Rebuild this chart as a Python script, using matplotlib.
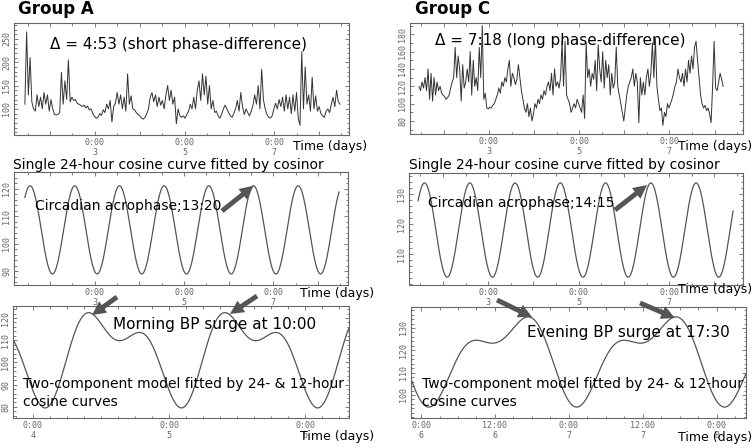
import numpy as np
import matplotlib.pyplot as plt
from matplotlib.ticker import MultipleLocator

W, H = 753, 448

# raw ambulatory BP (mmHg)
bp_a = [110, 265, 130, 210, 115, 100, 95, 130, 105, 125,
        100, 135, 110, 130, 95, 120, 100, 88,
        87, 88, 92, 178, 110, 160, 120, 205, 115,
        125, 118, 120, 112, 110, 108, 105, 108,
        102, 106, 98, 100, 90, 84, 80, 82,
        90, 86, 98, 92, 110, 100, 118, 72, 105,
        112, 135, 110, 130, 100, 125, 95, 175, 110,
        128, 100, 98, 92, 88, 85, 80, 78,
        82, 90, 100, 125, 135, 115, 130, 105,
        125, 108, 118, 100, 130, 150, 118, 140,
        110, 125, 68, 100, 85, 82, 85, 80,
        88, 95, 110, 100, 125, 100, 140, 160, 118, 175,
        130, 170, 110, 150, 100, 118, 92, 95,
        85, 80, 88, 100, 108, 100, 92, 85,
        82, 90, 100, 118, 95, 135, 105, 88,
        100, 92, 85, 95, 108, 130, 110, 150,
        100, 185, 120, 100, 88, 82, 80, 85,
        100, 112, 100, 120, 105, 125, 95, 130, 100, 125,
        90, 130, 95, 135, 80, 65, 222, 100, 190, 110,
        130, 95, 168, 100, 128, 95, 105, 90,
        85, 82, 95, 100, 92, 110, 125, 105, 140, 115, 110]

bp_c = [120, 115, 125, 118, 130, 115, 140,
        105, 135, 103, 130, 110, 125, 115, 120, 112,
        110, 108, 105, 107, 110, 118, 125, 130,
        165, 130, 155, 140, 103, 145, 118, 125,
        140, 125, 160, 110, 150, 120, 130, 115, 165, 130, 190,
        105, 112, 95, 94, 96, 95,
        98, 100, 105, 110, 118, 112, 125, 120, 130,
        125, 140, 150, 120, 135,
        130, 122, 128, 145, 130, 115, 105, 95,
        90, 100, 85, 95, 80, 88, 100,
        95, 105, 100, 110, 105, 115, 110, 120, 125, 115,
        135, 110, 140, 120, 125, 118, 130, 172,
        120, 172, 110, 105, 100, 90, 95, 100, 95,
        105, 100, 95, 90, 110, 83, 170, 130, 140,
        120, 135, 128, 150, 115, 168, 140, 125, 160, 118,
        150, 130, 145, 110, 135, 118, 125, 165, 120,
        110, 100, 90, 80, 95, 110, 120, 125,
        130, 140, 120, 135, 125, 78, 130, 110, 125,
        110, 130, 140, 120, 135, 170, 130, 175,
        120, 105, 92, 95, 75, 90, 85, 100, 95,
        100, 105, 112, 120, 125, 140, 130, 125, 135, 120,
        140, 125, 150, 135, 155, 140, 165, 172, 150,
        130, 110, 100, 95, 98, 92, 95, 88, 78,
        120, 172, 118, 115, 125, 135, 128, 120]

rec_a = (1.4375, 8.47)     # recording start / end, days
rec_c = (1.45, 8.19)
fit_span_a = (1.4375, 8.47)
fit_span_c = (1.45, 8.41)

# single cosinor: MESOR, amplitude, acrophase (hours)
cos_a = (105, 16, 13 + 20 / 60)
cos_c = (118, 15.7, 14 + 15 / 60)

# two-component model: MESOR, 24h amp, 24h acrophase, 12h amp, 12h acrophase
two_a = (105, 16, 13.33, 10, 8.5)
two_c = (118, 15.7, 14.25, 8.5, 6.8)

days_top = [2, 3, 4, 5, 6, 7, 8]
day_labels_top = ['', '0:00\n3', '', '0:00\n5', '', '0:00\n7', '']
ticks_bot_a = [4, 5, 6]
labels_bot_a = ['0:00\n4', '0:00\n5', '0:00\n6']
ticks_bot_c = [6, 6.5, 7, 7.5, 8]
labels_bot_c = ['0:00\n6', '12:00\n6', '0:00\n7', '12:00\n7', '0:00\n8']


def cosinor(t, m, a, phi):
    h = t * 24
    return m + a * np.cos(2 * np.pi * (h - phi) / 24)


def two_comp(t, m, a1, p1, a2, p2):
    h = t * 24
    return m + a1 * np.cos(2 * np.pi * (h - p1) / 24) + a2 * np.cos(2 * np.pi * (h - p2) / 12)


fig = plt.figure(figsize=(W / 100, H / 100), dpi=100)


def add_ax(l, t, r, b):
    return fig.add_axes([l / W, 1 - b / H, (r - l) / W, (b - t) / H])


def style(ax, xt, xl, yt, xminor, yminor):
    for s in ax.spines.values():
        s.set_color('#666')
        s.set_linewidth(0.8)
    ax.set_xticks(xt, xl)
    ax.set_yticks(yt)
    ax.xaxis.set_minor_locator(MultipleLocator(xminor))
    ax.yaxis.set_minor_locator(MultipleLocator(yminor))
    ax.tick_params(which='both', direction='in', top=True, right=True,
                   colors='#666', labelsize=6, width=0.6)
    ax.tick_params(which='major', length=3)
    ax.tick_params(which='minor', length=1.8)
    ax.tick_params(axis='x', pad=2)
    ax.tick_params(axis='y', pad=2, labelrotation=90)
    for lab in ax.get_xticklabels() + ax.get_yticklabels():
        lab.set_family('DejaVu Sans Mono')
    for lab in ax.get_yticklabels():
        lab.set_va('center')


def ftext(x, y, s, **kw):
    kw.setdefault('va', 'center')
    kw.setdefault('ha', 'left')
    fig.text(x / W, 1 - y / H, s, **kw)


def arrow(ax, xy, tail):
    ax.annotate('', xy=xy, xycoords='data', xytext=(tail[0], H - tail[1]),
                textcoords='figure pixels', annotation_clip=False,
                arrowprops=dict(arrowstyle='simple,head_length=0.9,head_width=0.9,tail_width=0.32',
                                fc='#555', ec='none', mutation_scale=11,
                                shrinkA=0, shrinkB=0))


line_kw = dict(color='#333', lw=0.7)
fit_kw = dict(color='#555', lw=0.9)

# ---- top: raw data
ax = add_ax(14, 23, 349, 135)
ax.plot(np.linspace(*rec_a, len(bp_a)), bp_a, **line_kw)
ax.set_xlim(1.195, 8.67)
ax.set_ylim(44, 284)
style(ax, days_top, day_labels_top, [100, 150, 200, 250], 0.5, 10)

ax = add_ax(410, 23, 743, 134)
ax.plot(np.linspace(*rec_c, len(bp_c)), bp_c, **line_kw)
ax.set_xlim(1.25, 8.63)
ax.set_ylim(65, 193)
style(ax, days_top, day_labels_top, [80, 100, 120, 140, 160, 180], 0.5, 10)

# ---- middle: single cosinor
ax = add_ax(14, 172, 348, 285)
t = np.linspace(*fit_span_a, 800)
ax.plot(t, cosinor(t, *cos_a), **fit_kw)
ax.set_xlim(1.195, 8.67)
ax.set_ylim(85, 126)
style(ax, days_top, day_labels_top, [90, 100, 110, 120], 0.5, 2)
arrow(ax, (6 + cos_a[2] / 24, 121), (222, 211))

ax = add_ax(409, 173, 743, 285)
t = np.linspace(*fit_span_c, 800)
ax.plot(t, cosinor(t, *cos_c), **fit_kw)
ax.set_xlim(1.25, 8.63)
ax.set_ylim(99.7, 137)
style(ax, days_top, day_labels_top, [110, 120, 130], 0.5, 2)
arrow(ax, (6.51, 133), (615, 210))

# ---- bottom: two-component model
ax = add_ax(13, 306, 349, 418)
t = np.linspace(3.854, 6.32, 800)
ax.plot(t, two_comp(t, *two_a), **fit_kw)
ax.set_xlim(3.854, 6.32)
ax.set_ylim(75, 125.4)
style(ax, ticks_bot_a, labels_bot_a, [80, 90, 100, 110, 120], 0.125, 2)
arrow(ax, (4.434, 121.3), (117, 297))
arrow(ax, (5.446, 121.8), (257, 296))

ax = add_ax(411, 307, 746, 418)
t = np.linspace(5.932, 8.198, 800)
ax.plot(t, two_comp(t, *two_c), **fit_kw)
ax.set_xlim(5.932, 8.198)
ax.set_ylim(89.7, 139.4)
style(ax, ticks_bot_c, labels_bot_c, [100, 110, 120, 130], 0.125, 2)
arrow(ax, (6.751, 134.9), (497, 300))
arrow(ax, (7.718, 134.5), (640, 303))

# ---- text
ftext(18, 9, 'Group A', fontsize=12, fontweight='bold')
ftext(415, 9, 'Group C', fontsize=12, fontweight='bold')
ftext(50, 44, 'Δ = 4:53 (short phase-difference)', fontsize=11)
ftext(435, 41, 'Δ = 7:18 (long phase-difference)', fontsize=11)
for x, y in [(293, 146), (300, 294), (300, 436), (678, 146), (678, 289), (678, 437)]:
    ftext(x, y, 'Time (days)', fontsize=9)
ftext(13, 165, 'Single 24-hour cosine curve fitted by cosinor', fontsize=10)
ftext(409, 165, 'Single 24-hour cosine curve fitted by cosinor', fontsize=10)
ftext(35, 206, 'Circadian acrophase;13:20', fontsize=10)
ftext(428, 203, 'Circadian acrophase;14:15', fontsize=10)
ftext(113, 324, 'Morning BP surge at 10:00', fontsize=11)
ftext(527, 333, 'Evening BP surge at 17:30', fontsize=11)
ftext(23, 377, 'Two-component model fitted by 24- & 12-hour\ncosine curves',
      fontsize=10, va='top', linespacing=1.35)
ftext(422, 377, 'Two-component model fitted by 24- & 12-hour\ncosine curves',
      fontsize=10, va='top', linespacing=1.35)

fig.savefig('out.png', dpi=100)
